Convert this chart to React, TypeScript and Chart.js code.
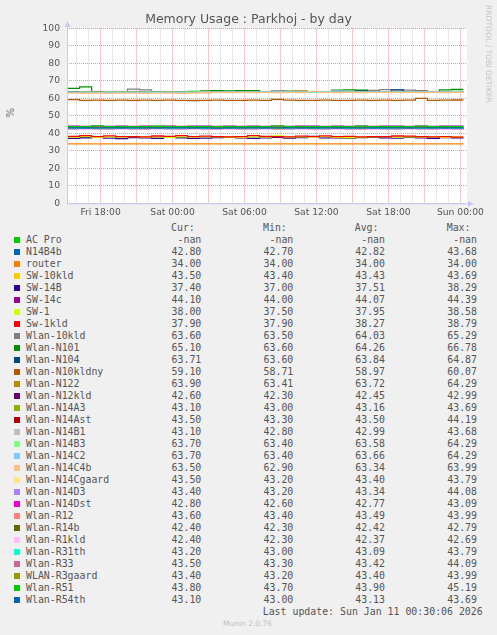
import { useEffect, useRef } from "react"
import { Chart, registerables } from "chart.js"

Chart.register(...registerables)

// hours since Fri 00:00, one sample per hour
const TIMES = [15.25, 16.25, 17.25, 18.25, 19.25, 20.25, 21.25, 22.25, 23.25, 24.25, 25.25, 26.25, 27.25, 28.25, 29.25, 30.25, 31.25, 32.25, 33.25, 34.25, 35.25, 36.25, 37.25, 38.25, 39.25, 40.25, 41.25, 42.25, 43.25, 44.25, 45.25, 46.25, 47.25, 48.25]
const GRID_HOURS = [16, 17, 18, 19, 20, 21, 22, 23, 24, 25, 26, 27, 28, 29, 30, 31, 32, 33, 34, 35, 36, 37, 38, 39, 40, 41, 42, 43, 44, 45, 46, 47, 48]
const LABEL_HOURS = [18, 24, 30, 36, 42, 48]
const LABEL_TEXT = ["Fri 18:00", "Sat 00:00", "Sat 06:00", "Sat 12:00", "Sat 18:00", "Sun 00:00"]

const NAMES = ["AC Pro", "N14B4b", "router", "SW-10kld", "SW-14B", "SW-14c", "SW-1", "Sw-1kld", "Wlan-10kld", "Wlan-N101", "Wlan-N104", "Wlan-N10kldny", "Wlan-N122", "Wlan-N12kld", "Wlan-N14A3", "Wlan-N14Ast", "Wlan-N14B1", "Wlan-N14B3", "Wlan-N14C2", "Wlan-N14C4b", "Wlan-N14Cgaard", "Wlan-N14D3", "Wlan-N14Dst", "Wlan-R12", "Wlan-R14b", "Wlan-R1kld", "Wlan-R31th", "Wlan-R33", "WLAN-R3gaard", "Wlan-R51", "Wlan-R54th"]
const COLORS = ["#00CC00", "#0066B3", "#FF8000", "#FFCC00", "#330099", "#990099", "#CCFF00", "#FF0000", "#808080", "#008F00", "#00487D", "#B35A00", "#B38F00", "#6B006B", "#8FB300", "#B30000", "#BEBEBE", "#80FF80", "#80C9FF", "#FFC080", "#FFE680", "#AA80FF", "#EE00CC", "#FF8080", "#666600", "#FFBFFF", "#00FFCC", "#CC6699", "#999900", "#00CC00", "#0066B3"]
const CUR = ["-nan", "42.80", "34.00", "43.50", "37.40", "44.10", "38.00", "37.90", "63.60", "65.10", "63.71", "59.10", "63.90", "42.60", "43.10", "43.50", "43.10", "63.70", "63.70", "63.50", "43.50", "43.40", "42.80", "43.60", "42.40", "42.40", "43.20", "43.50", "43.40", "43.80", "43.10"]
const MIN = ["-nan", "42.70", "34.00", "43.40", "37.00", "44.00", "37.50", "37.90", "63.50", "63.60", "63.60", "58.71", "63.41", "42.30", "43.00", "43.30", "42.80", "63.40", "63.40", "62.90", "43.20", "43.20", "42.60", "43.40", "42.30", "42.30", "43.00", "43.30", "43.20", "43.70", "43.00"]
const AVG = ["-nan", "42.82", "34.00", "43.43", "37.51", "44.07", "37.95", "38.27", "64.03", "64.26", "63.84", "58.97", "63.72", "42.45", "43.16", "43.50", "42.99", "63.58", "63.66", "63.34", "43.40", "43.34", "42.77", "43.49", "42.42", "42.37", "43.09", "43.42", "43.40", "43.90", "43.13"]
const MAX = ["-nan", "43.68", "34.00", "43.69", "38.29", "44.39", "38.58", "38.79", "65.29", "66.78", "64.87", "60.07", "64.29", "42.99", "43.69", "44.19", "43.68", "64.29", "64.29", "63.99", "43.79", "44.08", "43.09", "43.99", "42.79", "42.69", "43.79", "44.09", "43.99", "45.19", "43.69"]

const AC_PRO: number[] = []
const N14B4B = [43.7, 42.8, 42.8, 42.7, 42.9, 42.8, 42.8, 42.7, 42.8, 42.9, 42.8, 42.8, 42.7, 42.8, 42.9, 42.8, 42.8, 42.7, 42.8, 42.8, 42.9, 42.8, 42.7, 42.8, 42.8, 42.9, 42.8, 42.8, 42.7, 42.8, 42.8, 42.9, 42.8, 42.8]
const ROUTER = [34, 34, 34, 34, 34, 34, 34, 34, 34, 34, 34, 34, 34, 34, 34, 34, 34, 34, 34, 34, 34, 34, 34, 34, 34, 34, 34, 34, 34, 34, 34, 34, 34, 34]
const SW_10KLD = [43.7, 43.4, 43.5, 43.4, 43.4, 43.5, 43.4, 43.4, 43.5, 43.4, 43.4, 43.4, 43.5, 43.4, 43.4, 43.5, 43.4, 43.4, 43.4, 43.5, 43.4, 43.4, 43.5, 43.4, 43.4, 43.4, 43.5, 43.4, 43.4, 43.4, 43.5, 43.4, 43.4, 43.5]
const SW_14B = [37.6, 37.2, 37.5, 37.8, 37.3, 37.0, 37.6, 37.4, 37.2, 37.7, 37.5, 37.1, 37.3, 37.6, 37.9, 37.4, 37.2, 37.5, 37.7, 37.3, 37.6, 38.3, 37.4, 37.5, 37.2, 37.6, 37.8, 37.4, 37.3, 37.7, 37.5, 37.2, 37.6, 37.4]
const SW_14C = [44.4, 44.1, 44.0, 44.1, 44.0, 44.1, 44.0, 44.1, 44.0, 44.1, 44.0, 44.1, 44.1, 44.0, 44.1, 44.0, 44.1, 44.0, 44.1, 44.0, 44.1, 44.1, 44.0, 44.1, 44.0, 44.1, 44.0, 44.1, 44.1, 44.0, 44.1, 44.0, 44.1, 44.1]
const SW_1 = [38.0, 37.9, 38.1, 37.8, 38.0, 37.9, 38.2, 37.9, 38.0, 37.7, 38.0, 37.9, 38.1, 38.0, 37.9, 37.8, 38.0, 37.9, 38.6, 37.9, 38.0, 37.9, 38.1, 37.8, 37.5, 37.9, 38.0, 38.1, 37.9, 38.0, 37.9, 38.0, 37.8, 38.0]
const SW_1KLD = [38.1, 38.3, 38.7, 38.2, 38.6, 38.1, 38.2, 38.0, 38.5, 38.3, 38.7, 38.2, 38.4, 38.1, 38.0, 38.2, 38.7, 38.3, 38.1, 38.0, 38.4, 38.1, 38.6, 38.2, 38.3, 38.0, 38.1, 38.2, 38.5, 38.4, 38.1, 38.0, 38.2, 37.9]
const WLAN_10KLD = [63.9, 63.8, 63.7, 63.8, 63.7, 63.8, 65.3, 64.9, 63.8, 63.7, 63.7, 63.6, 63.8, 63.7, 63.9, 63.8, 63.7, 63.8, 63.9, 63.7, 63.8, 63.9, 63.7, 63.8, 63.9, 64.4, 64.6, 65.0, 64.9, 64.7, 64.5, 63.8, 63.6, 63.6]
const N101 = [66.2, 65.7, 66.6, 63.7, 63.6, 63.6, 63.7, 63.6, 63.6, 63.7, 63.6, 63.6, 64.3, 64.4, 64.3, 64.5, 64.4, 63.7, 63.6, 64.2, 63.7, 63.6, 63.7, 64.8, 64.9, 64.8, 63.8, 63.7, 63.8, 63.7, 63.6, 63.7, 64.9, 65.1]
const N104 = [63.8, 63.7, 63.8, 63.9, 63.7, 63.8, 63.9, 63.8, 63.7, 63.8, 63.9, 63.7, 63.8, 63.7, 63.9, 63.8, 63.7, 63.8, 64.2, 63.8, 64.0, 63.7, 63.8, 63.9, 63.7, 64.1, 63.8, 63.9, 64.9, 63.8, 63.7, 63.8, 63.9, 63.7]
const N10KLDNY = [59.0, 59.3, 58.9, 59.0, 58.9, 59.0, 58.9, 59.0, 58.9, 59.0, 58.9, 58.8, 58.9, 59.0, 58.9, 58.9, 59.0, 58.9, 59.4, 59.0, 58.9, 58.9, 59.0, 58.9, 58.9, 59.0, 58.9, 59.0, 58.9, 59.0, 60.0, 58.9, 59.0, 59.1]
const N122 = [63.7, 63.6, 63.8, 63.7, 63.6, 63.7, 63.8, 63.7, 63.6, 63.7, 63.8, 63.7, 63.4, 63.7, 63.8, 63.7, 63.6, 63.7, 63.8, 63.7, 64.3, 63.7, 63.8, 63.7, 63.6, 63.7, 63.8, 63.7, 63.6, 63.7, 63.8, 63.7, 63.8, 63.9]
const N12KLD = [42.9, 42.4, 42.5, 42.4, 42.5, 42.4, 42.4, 42.5, 42.4, 42.5, 42.4, 42.4, 42.5, 42.4, 42.5, 42.4, 42.4, 42.5, 42.4, 42.4, 42.5, 42.4, 42.5, 42.4, 42.4, 42.5, 42.3, 42.4, 42.5, 42.4, 42.5, 42.4, 42.5, 42.6]
const N14A3 = [43.7, 43.1, 43.2, 43.1, 43.2, 43.1, 43.1, 43.2, 43.1, 43.2, 43.1, 43.1, 43.2, 43.1, 43.2, 43.1, 43.1, 43.2, 43.1, 43.2, 43.1, 43.0, 43.2, 43.1, 43.2, 43.1, 43.1, 43.2, 43.1, 43.2, 43.1, 43.1, 43.2, 43.1]
const N14AST = [44.2, 43.5, 43.4, 43.5, 43.6, 43.5, 43.4, 43.5, 43.5, 43.6, 43.4, 43.5, 43.5, 43.4, 43.5, 43.6, 43.5, 43.3, 43.5, 43.5, 43.6, 43.4, 43.5, 43.5, 43.4, 43.5, 43.6, 43.5, 43.4, 43.5, 43.5, 43.6, 43.4, 43.5]
const N14B1 = [43.7, 43.0, 42.9, 43.0, 43.0, 42.9, 43.0, 43.0, 42.9, 43.0, 43.0, 42.8, 43.0, 43.0, 42.9, 43.0, 43.0, 42.9, 43.0, 43.0, 42.9, 43.0, 43.0, 42.9, 43.0, 43.0, 42.9, 43.0, 42.9, 43.0, 43.0, 42.9, 43.0, 43.1]
const N14B3 = [63.6, 63.5, 63.6, 63.5, 63.6, 63.6, 63.5, 63.6, 63.5, 63.6, 63.4, 64.3, 63.6, 63.5, 63.6, 63.5, 63.6, 63.5, 63.6, 63.5, 63.6, 63.5, 63.6, 63.5, 63.6, 63.5, 63.6, 63.5, 63.6, 63.5, 63.6, 63.5, 63.6, 63.7]
const N14C2 = [63.4, 63.5, 63.4, 63.5, 63.6, 63.5, 63.6, 63.5, 63.6, 63.5, 63.6, 63.5, 63.7, 63.8, 63.7, 63.8, 63.7, 63.8, 63.7, 63.8, 63.7, 63.8, 63.7, 64.3, 63.7, 63.8, 63.7, 63.8, 63.7, 63.8, 63.7, 63.8, 63.7, 63.7]
const N14C4B = [62.9, 63.0, 62.9, 63.0, 62.9, 63.0, 63.0, 62.9, 63.0, 63.0, 62.9, 63.0, 63.4, 63.5, 63.4, 63.5, 63.4, 63.5, 63.4, 63.5, 63.4, 64.0, 63.5, 63.4, 63.5, 63.4, 63.5, 63.5, 63.4, 63.5, 63.4, 63.5, 63.4, 63.5]
const N14CGAARD = [43.8, 43.4, 43.4, 43.3, 43.4, 43.4, 43.4, 43.3, 43.4, 43.4, 43.4, 43.3, 43.4, 43.4, 43.4, 43.3, 43.4, 43.4, 43.4, 43.3, 43.4, 43.4, 43.4, 43.3, 43.4, 43.4, 43.2, 43.4, 43.4, 43.4, 43.3, 43.4, 43.4, 43.5]
const N14D3 = [44.1, 43.3, 43.3, 43.4, 43.3, 43.3, 43.3, 43.4, 43.3, 43.3, 43.3, 43.4, 43.3, 43.3, 43.2, 43.3, 43.3, 43.4, 43.3, 43.3, 43.3, 43.4, 43.3, 43.3, 43.3, 43.4, 43.3, 43.3, 43.3, 43.4, 43.3, 43.3, 43.3, 43.4]
const N14DST = [43.1, 42.8, 42.7, 42.8, 42.8, 42.7, 42.8, 42.8, 42.7, 42.8, 42.8, 42.7, 42.8, 42.8, 42.7, 42.8, 42.8, 42.7, 42.8, 42.8, 42.7, 42.8, 42.8, 42.7, 42.8, 42.8, 42.7, 42.8, 42.6, 42.8, 42.8, 42.7, 42.8, 42.8]
const R12 = [44.0, 43.5, 43.5, 43.4, 43.5, 43.5, 43.5, 43.4, 43.5, 43.5, 43.5, 43.4, 43.5, 43.5, 43.5, 43.4, 43.5, 43.5, 43.5, 43.4, 43.5, 43.5, 43.5, 43.4, 43.5, 43.5, 43.5, 43.4, 43.5, 43.5, 43.5, 43.4, 43.5, 43.6]
const R14B = [42.8, 42.4, 42.4, 42.4, 42.3, 42.4, 42.4, 42.4, 42.5, 42.4, 42.4, 42.3, 42.4, 42.4, 42.5, 42.4, 42.4, 42.4, 42.3, 42.4, 42.4, 42.5, 42.4, 42.4, 42.4, 42.3, 42.4, 42.4, 42.5, 42.4, 42.4, 42.4, 42.3, 42.4]
const R1KLD = [42.7, 42.4, 42.3, 42.4, 42.4, 42.3, 42.4, 42.4, 42.3, 42.4, 42.4, 42.3, 42.4, 42.4, 42.3, 42.4, 42.4, 42.3, 42.4, 42.4, 42.3, 42.4, 42.4, 42.3, 42.4, 42.4, 42.3, 42.4, 42.4, 42.3, 42.4, 42.4, 42.3, 42.4]
const R31TH = [43.8, 43.1, 43.1, 43.0, 43.1, 43.1, 43.0, 43.1, 43.1, 43.0, 43.1, 43.1, 43.0, 43.1, 43.1, 43.0, 43.1, 43.1, 43.0, 43.1, 43.1, 43.0, 43.1, 43.1, 43.0, 43.1, 43.1, 43.0, 43.1, 43.1, 43.0, 43.1, 43.1, 43.2]
const R33 = [44.1, 43.4, 43.4, 43.4, 43.5, 43.4, 43.4, 43.3, 43.4, 43.4, 43.4, 43.5, 43.4, 43.4, 43.4, 43.3, 43.4, 43.4, 43.4, 43.5, 43.4, 43.4, 43.4, 43.3, 43.4, 43.4, 43.4, 43.5, 43.4, 43.4, 43.4, 43.3, 43.4, 43.5]
const R3GAARD = [44.0, 43.4, 43.4, 43.3, 43.4, 43.4, 43.4, 43.3, 43.4, 43.4, 43.4, 43.3, 43.4, 43.4, 43.4, 43.3, 43.4, 43.4, 43.2, 43.4, 43.4, 43.3, 43.4, 43.4, 43.4, 43.3, 43.4, 43.4, 43.4, 43.3, 43.4, 43.4, 43.4, 43.4]
const R51 = [45.2, 43.8, 43.9, 44.3, 43.9, 43.8, 43.9, 43.8, 44.2, 43.9, 43.8, 43.9, 43.8, 43.9, 43.8, 43.9, 43.8, 43.9, 44.3, 43.8, 43.9, 43.8, 43.9, 43.8, 43.9, 44.2, 43.8, 43.9, 43.8, 43.9, 44.1, 43.8, 43.9, 43.8]
const R54TH = [43.7, 43.1, 43.1, 43.2, 43.1, 43.1, 43.1, 43.2, 43.1, 43.1, 43.1, 43.2, 43.1, 43.0, 43.1, 43.2, 43.1, 43.1, 43.1, 43.2, 43.1, 43.1, 43.1, 43.2, 43.1, 43.1, 43.1, 43.2, 43.1, 43.1, 43.1, 43.2, 43.1, 43.1]

const SERIES = [AC_PRO, N14B4B, ROUTER, SW_10KLD, SW_14B, SW_14C, SW_1, SW_1KLD, WLAN_10KLD, N101, N104, N10KLDNY, N122, N12KLD, N14A3, N14AST, N14B1, N14B3, N14C2, N14C4B, N14CGAARD, N14D3, N14DST, R12, R14B, R1KLD, R31TH, R33, R3GAARD, R51, R54TH]

const W = 497
const H = 635
const MONO = "'DejaVu Sans Mono', monospace"
const SANS = "'DejaVu Sans', sans-serif"
const VALUE_RIGHT = [201.3, 293.3, 385, 477]
const MAJOR = "rgba(230,110,110,0.7)"
const MINOR = "rgba(150,150,150,0.45)"

// white plot background + rrdtool style axis arrows
const rrdFrame = {
  id: "rrdFrame",
  beforeDraw(chart: Chart) {
    const { ctx, chartArea: a } = chart
    ctx.save()
    ctx.fillStyle = "#ffffff"
    ctx.fillRect(a.left, a.top, a.right - a.left, a.bottom - a.top)
    ctx.restore()
  },
  afterDraw(chart: Chart) {
    const { ctx, chartArea: a } = chart
    ctx.save()
    ctx.strokeStyle = "#c8c8f8"
    ctx.fillStyle = "#c8c8f8"
    ctx.lineWidth = 1
    ctx.beginPath()
    ctx.moveTo(a.left + 0.5, a.bottom)
    ctx.lineTo(a.left + 0.5, a.top - 3)
    ctx.moveTo(a.left, a.bottom + 0.5)
    ctx.lineTo(a.right + 3, a.bottom + 0.5)
    ctx.stroke()
    ctx.beginPath()
    ctx.moveTo(a.left - 2.5, a.top - 1.5)
    ctx.lineTo(a.left + 3.5, a.top - 1.5)
    ctx.lineTo(a.left + 0.5, a.top - 7.5)
    ctx.closePath()
    ctx.fill()
    ctx.beginPath()
    ctx.moveTo(a.right + 1, a.bottom - 2.5)
    ctx.lineTo(a.right + 1, a.bottom + 3.5)
    ctx.lineTo(a.right + 7, a.bottom + 0.5)
    ctx.closePath()
    ctx.fill()
    ctx.restore()
  },
}

function MemoryChart() {
  const chartRef = useRef<HTMLCanvasElement>(null)
  const chartInstance = useRef<Chart | null>(null)

  useEffect(() => {
    if (!chartRef.current) return
    if (chartInstance.current) chartInstance.current.destroy()
    const ctx = chartRef.current.getContext("2d")
    if (!ctx) return

    Chart.defaults.font.family = SANS

    chartInstance.current = new Chart(ctx, {
      type: "line",
      data: {
        datasets: SERIES.map((values, i) => ({
          label: NAMES[i],
          data: values.map((v, k) => ({ x: TIMES[k], y: v })),
          borderColor: COLORS[i],
          backgroundColor: COLORS[i],
          borderWidth: 1.3,
          pointRadius: 0,
          stepped: "after" as const,
          fill: false,
          order: SERIES.length - i,
        })),
      },
      options: {
        animation: false,
        responsive: false,
        events: [],
        layout: { padding: { left: 15, right: 15, top: 0, bottom: 0 } },
        plugins: {
          legend: { display: false },
          tooltip: { enabled: false },
          title: {
            display: true,
            text: "Memory Usage : Parkhoj - by day",
            color: "#555555",
            font: { family: SANS, size: 12.5, weight: "normal" },
            padding: { top: 12, bottom: 1.5 },
          },
        },
        scales: {
          x: {
            type: "linear",
            min: 15.2,
            max: 48.55,
            afterBuildTicks: (axis: any) => {
              axis.ticks = GRID_HOURS.map((h) => ({ value: h }))
            },
            afterFit: (axis: any) => {
              axis.height = 222 - 203.3
              axis.paddingRight = 30
              axis.paddingLeft = 0
            },
            ticks: {
              autoSkip: false,
              maxRotation: 0,
              padding: 4,
              color: "#555555",
              font: { family: SANS, size: 9.2 },
              callback: (value: any) => {
                const idx = LABEL_HOURS.indexOf(Number(value))
                return idx >= 0 ? LABEL_TEXT[idx] : ""
              },
            },
            grid: {
              drawTicks: false,
              lineWidth: 1,
              color: (c: any) => (c.tick && c.tick.value % 3 === 0 ? MAJOR : MINOR),
            },
            border: { display: false, dash: [1, 1] },
          },
          y: {
            min: 0,
            max: 100,
            afterFit: (axis: any) => {
              axis.width = 52
            },
            ticks: {
              stepSize: 5,
              padding: 7,
              color: "#555555",
              font: { family: SANS, size: 9.2 },
              callback: (value: any) => (Number(value) % 10 === 0 ? String(value) : ""),
            },
            grid: {
              drawTicks: false,
              lineWidth: 1,
              color: (c: any) => (c.tick && c.tick.value % 10 === 0 ? MAJOR : MINOR),
            },
            border: { display: false, dash: [1, 1] },
          },
        },
      },
      plugins: [rrdFrame],
    })

    return () => {
      if (chartInstance.current) {
        chartInstance.current.destroy()
        chartInstance.current = null
      }
    }
  }, [])

  return <canvas ref={chartRef} width={W} height={222} style={{ position: "absolute", left: 0, top: 0 }} />
}

export default function App() {
  const text = { fontFamily: MONO, fontSize: "9.9px", color: "#555555", whiteSpace: "pre" as const }
  return (
    <div style={{ position: "absolute", left: 0, top: 0, width: W, height: H, background: "#f0f0f0", overflow: "hidden" }}>
      <MemoryChart />
      <div
        style={{
          position: "absolute",
          left: 5,
          top: 108,
          writingMode: "vertical-rl",
          transform: "rotate(180deg)",
          fontFamily: SANS,
          fontSize: "10px",
          color: "#555555",
        }}
      >
        %
      </div>
      <div
        style={{
          position: "absolute",
          left: 484,
          top: 5,
          writingMode: "vertical-rl",
          fontFamily: SANS,
          fontSize: "7.6px",
          color: "#c4c4c4",
          whiteSpace: "nowrap",
        }}
      >
        RRDTOOL / TOBI OETIKER
      </div>
      <div style={{ ...text, position: "absolute", top: 221.5, left: 0, width: W, height: 12, lineHeight: "12px" }}>
        {["Cur:", "Min:", "Avg:", "Max:"].map((h, j) => (
          <span key={h} style={{ position: "absolute", right: W - VALUE_RIGHT[j] + 6.5 }}>
            {h}
          </span>
        ))}
      </div>
      {NAMES.map((name, i) => (
        <div key={name} style={{ ...text, position: "absolute", top: 233.5 + i * 12, left: 0, width: W, height: 12, lineHeight: "12px" }}>
          <span style={{ position: "absolute", left: 14, top: 3, width: 6, height: 6, background: COLORS[i] }} />
          <span style={{ position: "absolute", left: 26 }}>{name}</span>
          {[CUR[i], MIN[i], AVG[i], MAX[i]].map((v, j) => (
            <span key={j} style={{ position: "absolute", right: W - VALUE_RIGHT[j] }}>
              {v}
            </span>
          ))}
        </div>
      ))}
      <div style={{ ...text, position: "absolute", top: 605.7, right: W - 482.7, lineHeight: "12px" }}>
        Last update: Sun Jan 11 00:30:06 2026
      </div>
      <div
        style={{
          position: "absolute",
          top: 619,
          left: 0,
          width: W - 2,
          textAlign: "center",
          fontFamily: SANS,
          fontSize: "7.5px",
          lineHeight: "10px",
          color: "#c0c0c0",
        }}
      >
        Munin 2.0.76
      </div>
    </div>
  )
}
